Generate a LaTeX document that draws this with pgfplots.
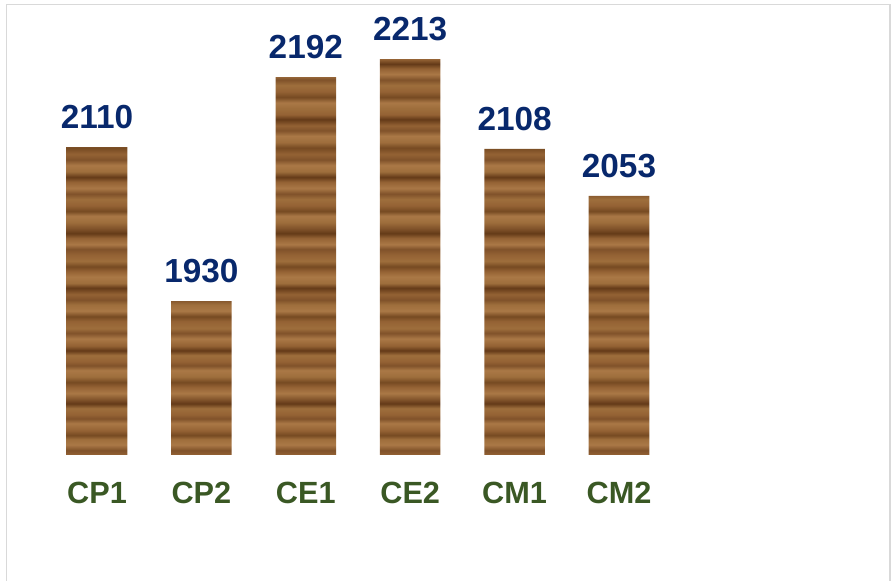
\documentclass[border=0pt]{standalone}
\usepackage{fontspec}
\setmainfont{Liberation Sans}
\usepackage{pgfplots}
\pgfplotsset{compat=1.18}
\definecolor{navy}{RGB}{8,40,108}
\definecolor{lgreen}{RGB}{58,88,36}
\definecolor{framegray}{RGB}{217,217,217}
\definecolor{wA}{RGB}{100,58,24}
\definecolor{wB}{RGB}{128,82,42}
\definecolor{wC}{RGB}{148,98,52}
\definecolor{wD}{RGB}{170,120,70}
\definecolor{wE}{RGB}{158,110,60}
\definecolor{wF}{RGB}{118,74,34}
\pgfdeclareverticalshading{wood}{100bp}{%
color(0bp)=(wC); color(25bp)=(wC);
color(25.6bp)=(wB); color(26.3bp)=(wD); color(27bp)=(wE); color(27.5bp)=(wF);
color(28.1bp)=(wC); color(29bp)=(wD); color(29.6bp)=(wB); color(30.1bp)=(wC);
color(30.9bp)=(wE); color(31.5bp)=(wA); color(32bp)=(wB); color(32.8bp)=(wD);
color(33.6bp)=(wC); color(34.2bp)=(wF); color(34.9bp)=(wE); color(35.7bp)=(wD);
color(36.3bp)=(wB); color(36.8bp)=(wC); color(37.6bp)=(wE); color(38.2bp)=(wA);
color(38.8bp)=(wC); color(39.7bp)=(wD); color(40.4bp)=(wB); color(41bp)=(wE);
color(41.9bp)=(wC); color(42.5bp)=(wF); color(43.2bp)=(wD); color(44bp)=(wE);
color(44.6bp)=(wB); color(45.3bp)=(wC); color(46.1bp)=(wA); color(46.7bp)=(wE);
color(47.5bp)=(wD); color(48.2bp)=(wC); color(48.8bp)=(wF); color(49.5bp)=(wE);
color(50.3bp)=(wC); color(51bp)=(wB); color(51.6bp)=(wD); color(52.4bp)=(wC);
color(53bp)=(wA); color(53.6bp)=(wB); color(54.4bp)=(wE); color(55.2bp)=(wD);
color(55.8bp)=(wF); color(56.5bp)=(wC); color(57.3bp)=(wE); color(58bp)=(wB);
color(58.7bp)=(wD); color(59.5bp)=(wC); color(60.1bp)=(wA); color(60.8bp)=(wE);
color(61.6bp)=(wD); color(62.3bp)=(wB); color(63bp)=(wC); color(63.8bp)=(wF);
color(64.5bp)=(wE); color(65.3bp)=(wD); color(66bp)=(wB); color(66.6bp)=(wC);
color(67.4bp)=(wA); color(68bp)=(wC); color(68.8bp)=(wE); color(69.5bp)=(wD);
color(70.2bp)=(wF); color(70.9bp)=(wC); color(71.7bp)=(wE); color(72.4bp)=(wB);
color(73.1bp)=(wD); color(73.8bp)=(wC); color(74.4bp)=(wA); color(75bp)=(wC);
color(100bp)=(wC)}
\begin{document}
\begin{tikzpicture}
\useasboundingbox (0,0) rectangle (669pt,435.75pt);
\draw[framegray, line width=1.1pt] (4.9pt,-2pt) -- (4.9pt,432.4pt) -- (667.5pt,432.4pt) -- (667.5pt,-2pt);
\begin{axis}[
  at={(33.6pt,94.5pt)}, anchor=south west,
  scale only axis, width=548.1pt, height=320.6pt,
  xmin=-0.5, xmax=6.5, ymin=1750, ymax=2250,
  axis line style={draw=none},
  ymajorticks=false,
  xtick={0,1,2,3,4,5},
  xticklabels={CP1,CP2,CE1,CE2,CM1,CM2},
  major tick length=0pt,
  xticklabel style={font=\fontsize{23}{23}\selectfont\bfseries, text=lgreen, inner sep=0pt, anchor=north, yshift=-20pt},
  clip=false,
  ybar, bar width=45.4pt,
  nodes near coords,
  every node near coord/.append style={font=\fontsize{25}{25}\selectfont\bfseries, text=navy, inner sep=0pt, anchor=south, yshift=13.5pt},
  /pgf/number format/assume math mode=true,
  /pgf/number format/1000 sep={},
]
\addplot[draw=none, shading=wood] coordinates {(0,2110) (1,1930) (2,2192) (3,2213) (4,2108) (5,2053)};
\end{axis}
\end{tikzpicture}
\end{document}
